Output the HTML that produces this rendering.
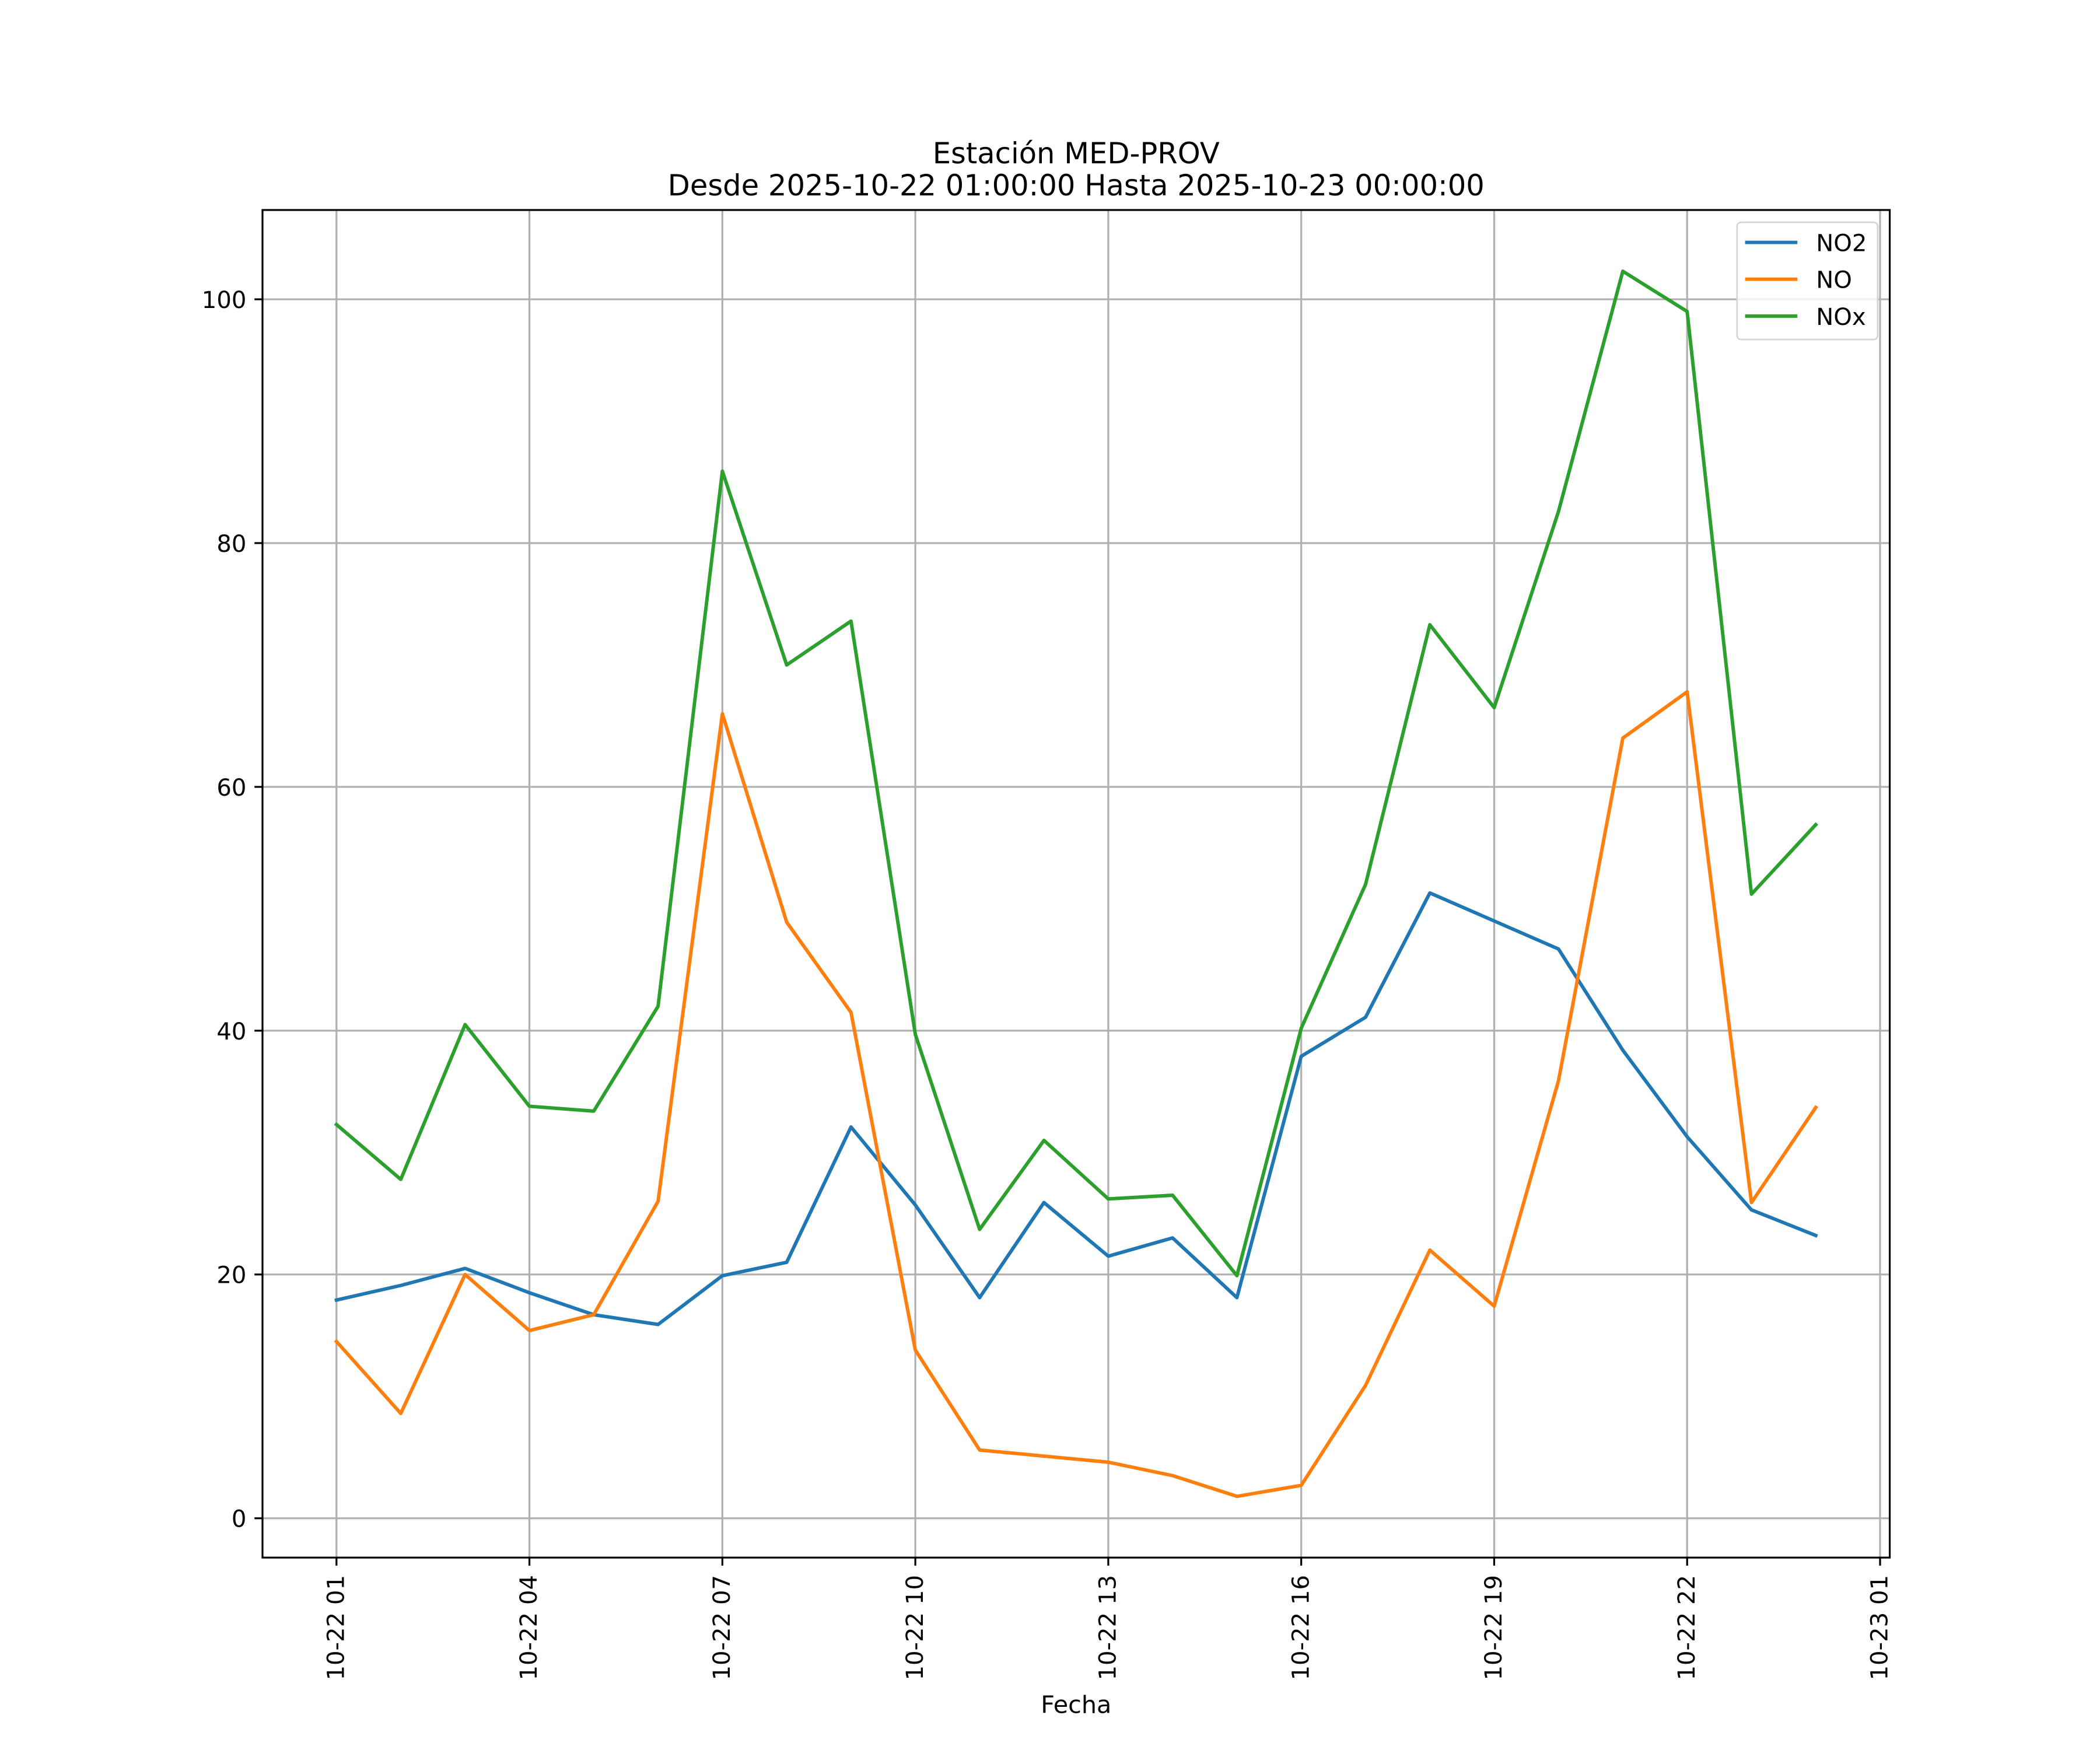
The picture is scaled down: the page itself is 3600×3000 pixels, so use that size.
<!DOCTYPE html>
<html><head><meta charset="utf-8"><style>
html,body{margin:0;padding:0;background:#fff}
svg{display:block}
text{font-family:"DejaVu Sans","Liberation Sans",sans-serif;fill:#000}
</style></head><body>
<svg id="chart" width="3600" height="3000" viewBox="0 0 1568 1306.67" xmlns="http://www.w3.org/2000/svg">
<rect width="1568" height="1306.67" fill="#fff"/>
<g id="grid"></g>
<g id="series"></g>
<rect x="196" y="156.8" width="1215" height="1006.2" fill="none" stroke="#000" stroke-width="1.4"/>
<g id="ticks"></g>
<text x="803.5" y="122" font-size="21.6" text-anchor="middle">Estación MED-PROV</text>
<text x="803.5" y="146" font-size="21.6" text-anchor="middle">Desde 2025-10-22 01:00:00 Hasta 2025-10-23 00:00:00</text>
<text x="803.5" y="1279" font-size="18" text-anchor="middle">Fecha</text>
<g id="legend">
<rect x="1297" y="166" width="105" height="87.5" rx="3" fill="#fff" fill-opacity="0.8" stroke="#d5d5d5" stroke-width="1.2"/>
</g>
</svg>
<script>
const hours = [1,2,3,4,5,6,7,8,9,10,11,12,13,14,15,16,17,18,19,20,21,22,23,24];
const no2 = [17.9,19.1,20.5,18.5,16.7,15.9,19.9,21.0,32.1,25.7,18.1,25.9,21.5,23.0,18.1,37.9,41.1,51.3,49.0,46.7,38.4,31.3,25.3,23.2];
const no = [14.5,8.6,20.0,15.4,16.7,26.0,66.0,48.9,41.5,13.8,5.6,5.1,4.6,3.5,1.8,2.7,10.9,22.0,17.4,35.9,64.0,67.8,25.9,33.7];
const nox = [32.3,27.8,40.5,33.8,33.4,42.0,85.9,70.0,73.6,39.7,23.7,31.0,26.2,26.5,19.9,40.2,52.0,73.3,66.5,82.6,102.3,99.0,51.2,56.9];
const yTicks = [0,20,40,60,80,100];
const xTickHours = [1,4,7,10,13,16,19,22,25];
const xTickLabels = ["10-22 01","10-22 04","10-22 07","10-22 10","10-22 13","10-22 16","10-22 19","10-22 22","10-23 01"];
const seriesNames = ["NO2","NO","NOx"];
const seriesColors = ["#1f77b4","#ff7f0e","#2ca02c"];

const L=196,R=1411,T=156.8,B=1163;
const allV = no2.concat(no,nox);
const vmin=Math.min(...allV), vmax=Math.max(...allV), vm=(vmax-vmin)*0.05;
const y0=vmin-vm, y1=vmax+vm;
const hmin=Math.min(...hours), hmax=Math.max(...hours), hm=(hmax-hmin)*0.05;
const x0=hmin-hm, x1=hmax+hm;
const X=h=>L+(h-x0)/(x1-x0)*(R-L);
const Y=v=>B-(v-y0)/(y1-y0)*(B-T);
const NS="http://www.w3.org/2000/svg";
function mk(tag,attrs,parent){const e=document.createElementNS(NS,tag);for(const k in attrs)e.setAttribute(k,attrs[k]);parent.appendChild(e);return e;}
const grid=document.getElementById('grid'),ticks=document.getElementById('ticks'),ser=document.getElementById('series'),leg=document.getElementById('legend');
yTicks.forEach(v=>{
  const y=Y(v);
  const g=mk('line',{x1:L,x2:R,y1:y,y2:y,stroke:'#b0b0b0','stroke-width':1.4},grid);
  
  
  const t=mk('line',{x1:L-6,x2:L,y1:y,y2:y,stroke:'#000','stroke-width':1.4},ticks);
  
  
  const tx=mk('text',{x:L-12,y:y+6.5,'font-size':17.5,'text-anchor':'end'},ticks);
  tx.textContent=v;
  
  
});
xTickHours.forEach((h,i)=>{
  const x=X(h);
  const g=mk('line',{x1:x,x2:x,y1:T,y2:B,stroke:'#b0b0b0','stroke-width':1.4},grid);
  
  
  const t=mk('line',{x1:x,x2:x,y1:B,y2:B+6,stroke:'#000','stroke-width':1.4},ticks);
  
  
  const tx=mk('text',{x:0,y:0,'font-size':17.5,'text-anchor':'end',transform:`translate(${x+5.5},${B+13}) rotate(-90)`},ticks);
  tx.textContent=xTickLabels[i];
  
  
});
[no2,no,nox].forEach((arr,si)=>{
  const pts=arr.map((v,i)=>X(hours[i]).toFixed(2)+','+Y(v).toFixed(2)).join(' ');
  const p=mk('polyline',{points:pts,fill:'none',stroke:seriesColors[si],'stroke-width':2.6,'stroke-linejoin':'round','stroke-linecap':'square'},ser);
  
  
  const ly=181+si*27.5;
  const ll=mk('line',{x1:1303,x2:1342,y1:ly,y2:ly,stroke:seriesColors[si],'stroke-width':2.6},leg);
  
  
  const lt=mk('text',{x:1356,y:ly+6.5,'font-size':17.5},leg);
  lt.textContent=seriesNames[si];
  
  
});
</script>
</body></html>
